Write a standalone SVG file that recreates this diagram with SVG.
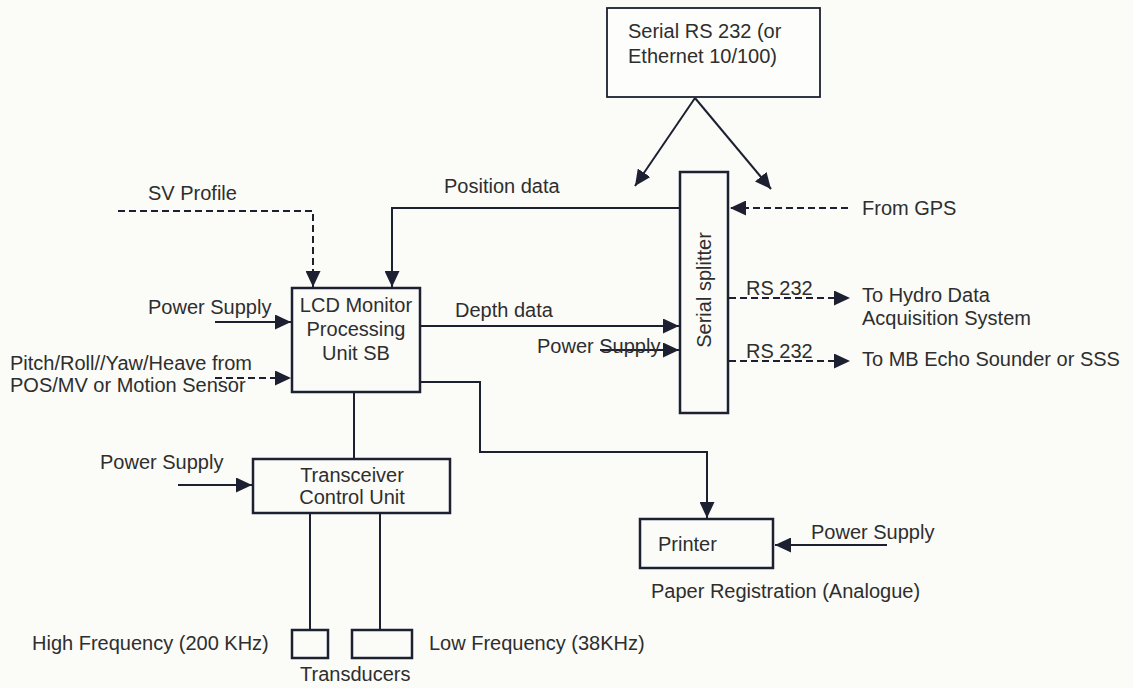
<svg xmlns="http://www.w3.org/2000/svg" width="1133" height="688" viewBox="0 0 1133 688">
<defs>
<marker id="ah" markerUnits="userSpaceOnUse" markerWidth="17" markerHeight="15" refX="16" refY="7.5" orient="auto">
<path d="M0,0 L16,7.5 L0,15 z" fill="#1c2030"/>
</marker>
<style>
.t{font-family:"Liberation Sans",Arial,sans-serif;font-size:20px;fill:#2e2e2e}
.box{fill:none;stroke:#1c2030;stroke-width:2.5}
.ln{fill:none;stroke:#1c2030;stroke-width:2}
.ds{fill:none;stroke:#1c2030;stroke-width:2;stroke-dasharray:7,4}
</style>
</defs>
<rect width="1133" height="688" fill="#fbfbf8"/>

<g id="connectors">
<path class="ln" d="M695,98 L635,186" marker-end="url(#ah)"/>
<path class="ln" d="M695,98 L771,189" marker-end="url(#ah)"/>
<path class="ln" d="M680,208 L392,208 L392,287" marker-end="url(#ah)"/>
<path class="ds" d="M848,208 L730,208" marker-end="url(#ah)"/>
<path class="ds" d="M118,211 L313,211 L313,287" marker-end="url(#ah)"/>
<path class="ln" d="M215,322 L291,322" marker-end="url(#ah)"/>
<path class="ds" d="M215,378 L291,378" marker-end="url(#ah)"/>
<path class="ln" d="M421,326 L679,326" marker-end="url(#ah)"/>
<path class="ln" d="M600,350 L679,350" marker-end="url(#ah)"/>
<path class="ds" d="M729,298 L850,298" marker-end="url(#ah)"/>
<path class="ds" d="M729,361 L850,361" marker-end="url(#ah)"/>
<path class="ln" d="M354,393 L354,459"/>
<path class="ln" d="M421,382 L480,382 L480,452 L707,452 L707,518" marker-end="url(#ah)"/>
<path class="ln" d="M178,485 L252,485" marker-end="url(#ah)"/>
<path class="ln" d="M310,514 L310,630"/>
<path class="ln" d="M380,514 L380,630"/>
<path class="ln" d="M887,545 L775,545" marker-end="url(#ah)"/>
</g>

<g id="serial-rs232">
<rect x="607" y="8" width="213" height="89" fill="#fdfdfb" stroke="#1c2030" stroke-width="1.8"/>
<text class="t" x="628" y="38">Serial RS 232 (or</text>
<text class="t" x="628" y="63">Ethernet 10/100)</text>
</g>

<g id="serial-splitter">
<rect class="box" x="680" y="172" width="48" height="241" stroke-width="2"/>
<text class="t" transform="translate(711,290) rotate(-90)" text-anchor="middle">Serial splitter</text>
</g>

<g id="lcd-monitor">
<rect class="box" x="292" y="288" width="128" height="104" stroke-width="3"/>
<text class="t" x="356" y="312" text-anchor="middle">LCD Monitor</text>
<text class="t" x="356" y="336" text-anchor="middle">Processing</text>
<text class="t" x="356" y="360" text-anchor="middle">Unit SB</text>
</g>

<g id="transceiver">
<rect class="box" x="253" y="459" width="197" height="54" stroke-width="3"/>
<text class="t" x="352" y="482" text-anchor="middle">Transceiver</text>
<text class="t" x="352" y="504" text-anchor="middle">Control Unit</text>
</g>

<g id="transducer-high">
<rect class="box" x="292" y="630" width="36" height="28"/>
</g>
<g id="transducer-low">
<rect class="box" x="352" y="630" width="60" height="28"/>
</g>

<g id="printer">
<rect class="box" x="640" y="519" width="133" height="49" stroke-width="3"/>
<text class="t" x="658" y="551">Printer</text>
</g>

<g id="labels">
<text class="t" x="148" y="200">SV Profile</text>
<text class="t" x="444" y="193">Position data</text>
<text class="t" x="862" y="215">From GPS</text>
<text class="t" x="148" y="314">Power Supply</text>
<text class="t" x="10" y="370">Pitch/Roll//Yaw/Heave from</text>
<text class="t" x="10" y="392">POS/MV or Motion Sensor</text>
<text class="t" x="455" y="317">Depth data</text>
<text class="t" x="537" y="353">Power Supply</text>
<text class="t" x="746" y="295">RS 232</text>
<text class="t" x="746" y="358">RS 232</text>
<text class="t" x="862" y="302">To Hydro Data</text>
<text class="t" x="862" y="325">Acquisition System</text>
<text class="t" x="862" y="366">To MB Echo Sounder or SSS</text>
<text class="t" x="100" y="469">Power Supply</text>
<text class="t" x="811" y="539">Power Supply</text>
<text class="t" x="651" y="598">Paper Registration (Analogue)</text>
<text class="t" x="32" y="650">High Frequency (200 KHz)</text>
<text class="t" x="429" y="650">Low Frequency (38KHz)</text>
<text class="t" x="300" y="681">Transducers</text>
</g>
</svg>
